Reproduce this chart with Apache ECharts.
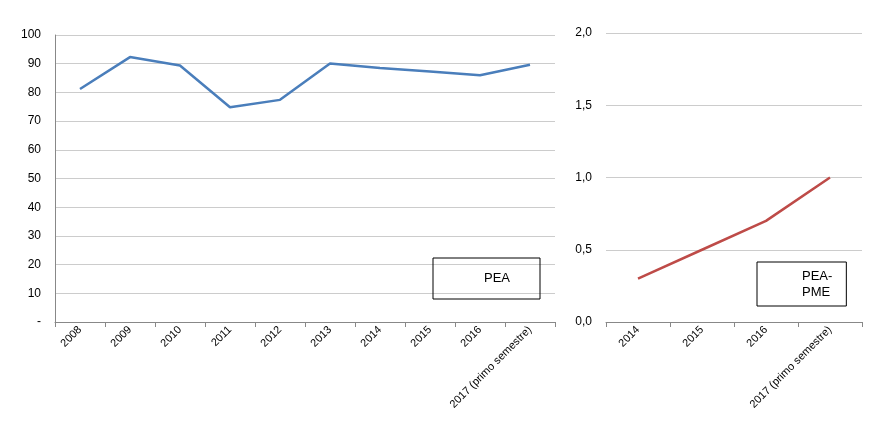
<!DOCTYPE html>
<html><head><meta charset="utf-8">
<script src="https://cdn.jsdelivr.net/npm/echarts@6/dist/echarts.min.js"></script>
<style>html,body{margin:0;background:#fff}#c{width:870px;height:444px}</style>
</head><body><div id="c"></div>
<script>
var peaYears = ["2008","2009","2010","2011","2012","2013","2014","2015","2016","2017 (primo semestre)"];
var peaValues = [81.2, 92.3, 89.4, 74.8, 77.4, 90.1, 88.5, 87.3, 86.0, 89.6];
var peaLabelPos = ["bottom","top","top","bottom","bottom","top","bottom","bottom","bottom","top"];
var pmeYears = ["2014","2015","2016","2017 (primo semestre)"];
var pmeValues = [0.3, 0.5, 0.7, 1.0];

var font = "Liberation Sans";
function comma(v, d) { return v.toFixed(d).replace(".", ","); }

var chart = echarts.init(document.getElementById("c"));
chart.setOption({
	animation: false,
	textStyle: { fontFamily: font },
	grid: [
		{ left: 55, top: 35, width: 500, height: 287 },
		{ left: 606, top: 33, width: 256, height: 289 }
	],
	xAxis: [{
		gridIndex: 0, type: "category", data: peaYears,
		axisLine: { lineStyle: { color: "#888" } },
		axisTick: { show: true, interval: 0, lineStyle: { color: "#888" } },
		axisLabel: { rotate: 45, interval: 0, color: "#000", fontSize: 11, margin: 6 }
	}, {
		gridIndex: 1, type: "category", data: pmeYears,
		axisLine: { lineStyle: { color: "#888" } },
		axisTick: { show: true, interval: 0, lineStyle: { color: "#888" } },
		axisLabel: { rotate: 45, interval: 0, color: "#000", fontSize: 11, margin: 6 }
	}],
	yAxis: [{
		gridIndex: 0, type: "value", min: 0, max: 100, interval: 10,
		axisLine: { show: true, lineStyle: { color: "#888" } },
		axisTick: { show: false },
		splitLine: { lineStyle: { color: "#ccc" } },
		axisLabel: { color: "#000", fontSize: 12, margin: 14, formatter: function (v) { return v === 0 ? "-" : v; } }
	}, {
		gridIndex: 1, type: "value", min: 0, max: 2, interval: 0.5,
		axisLine: { show: false },
		axisTick: { show: false },
		splitLine: { lineStyle: { color: "#ccc" } },
		axisLabel: { color: "#000", fontSize: 12, margin: 14, formatter: function (v) { return comma(v, 1); } }
	}],
	legend: [{
		data: ["PEA"], left: 433, top: 258, width: 90, padding: [14, 30, 14, 16],
		itemWidth: 30, itemHeight: 2, icon: "rect",
		borderColor: "#000", borderWidth: 1, textStyle: { fontSize: 13, color: "#000" }
	}, {
		data: ["PEA-\nPME"], left: 757, top: 262, padding: [6, 14, 6, 10],
		itemWidth: 30, itemHeight: 2, icon: "rect",
		borderColor: "#000", borderWidth: 1, textStyle: { fontSize: 13, color: "#000", lineHeight: 16 }
	}],
	series: [{
		name: "PEA", type: "line", xAxisIndex: 0, yAxisIndex: 0,
		data: peaValues.map(function (v, i) {
			return { value: v, label: { position: peaLabelPos[i] } };
		}),
		symbol: "circle", symbolSize: 1, showSymbol: true,
		lineStyle: { color: "#4a7ebb", width: 2.5 }, itemStyle: { color: "#4a7ebb", opacity: 0 },
		label: { show: true, fontWeight: "bold", fontSize: 12, color: "#000", distance: 10,
			formatter: function (p) { return comma(p.value, 1); } }
	}, {
		name: "PEA-\nPME", type: "line", xAxisIndex: 1, yAxisIndex: 1,
		data: pmeValues, symbol: "circle", symbolSize: 1, showSymbol: true,
		lineStyle: { color: "#be4b48", width: 2.5 }, itemStyle: { color: "#be4b48", opacity: 0 },
		label: { show: true, position: "top", fontWeight: "bold", fontSize: 12, color: "#000", distance: 7,
			formatter: function (p) { return comma(p.value, 1); } }
	}]
});
</script></body></html>
